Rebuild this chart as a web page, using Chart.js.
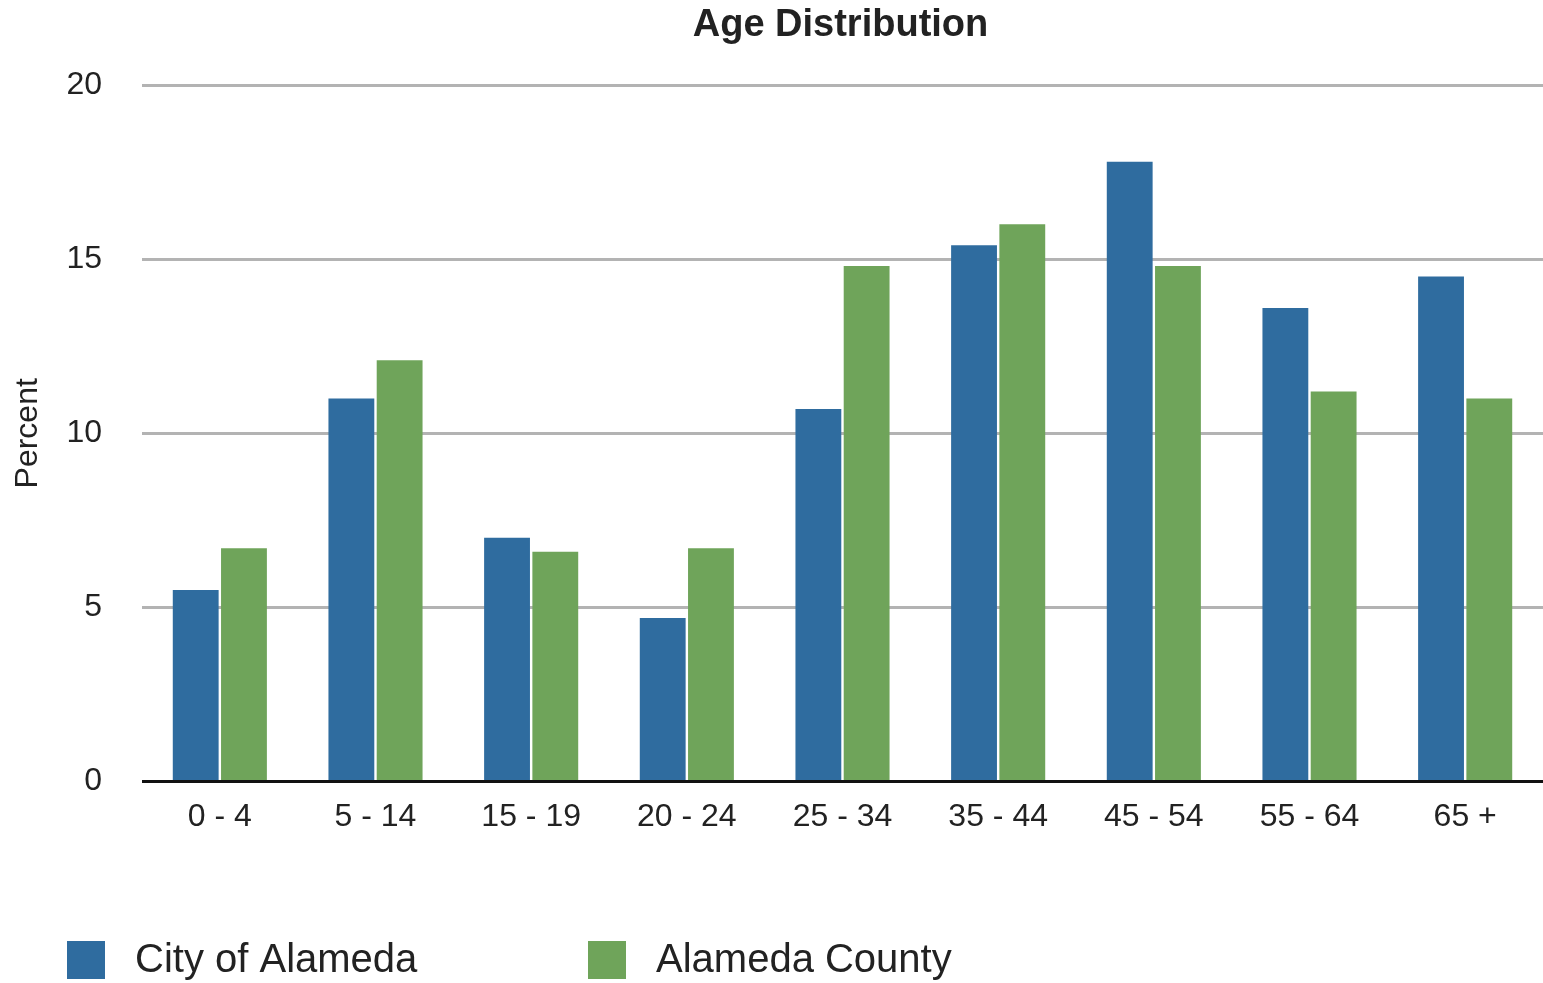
<!DOCTYPE html>
<html>
<head>
<meta charset="utf-8">
<script src="https://cdn.jsdelivr.net/npm/chart.js@4/dist/chart.umd.min.js"></script>
<style>
  html, body { margin: 0; padding: 0; background: #fff; }
  #wrap { width: 1543px; height: 983px; }
</style>
</head>
<body>
<div id="wrap"><canvas id="chart-area"></canvas></div>
<script>
// data
const ageGroups = ['0 - 4', '5 - 14', '15 - 19', '20 - 24', '25 - 34', '35 - 44', '45 - 54', '55 - 64', '65 +'];
const cityOfAlameda = [5.5, 11.0, 7.0, 4.7, 10.7, 15.4, 17.8, 13.6, 14.5];
const alamedaCounty = [6.7, 12.1, 6.6, 6.7, 14.8, 16.0, 14.8, 11.2, 11.0];
const yTicks = [0, 5, 10, 15, 20];

const FONT = "'Liberation Sans', Arial, Helvetica, sans-serif";
const BLUE = '#2f6c9f';
const GREEN = '#6fa45a';

// title over the plot area + legend at bottom left
const decorations = {
    id: 'decorations',
    afterDraw(chart) {
        const ctx = chart.ctx;
        const area = chart.chartArea;
        ctx.save();
        ctx.fillStyle = '#222';
        ctx.font = 'bold 38px ' + FONT;
        ctx.textAlign = 'center';
        ctx.textBaseline = 'middle';
        ctx.fillText('Age Distribution', (area.left + area.right) / 2 - 2, 26);

        ctx.font = '40px ' + FONT;
        ctx.textAlign = 'left';
        let x = 67;
        chart.data.datasets.forEach(function(ds) {
            ctx.fillStyle = ds.backgroundColor;
            ctx.fillRect(x, 941, 38, 38);
            ctx.fillStyle = '#222';
            ctx.fillText(ds.label, x + 68, 961);
            x += 521;
        });
        ctx.restore();
    }
};

new Chart(document.getElementById('chart-area').getContext('2d'), {
    type: 'bar',
    data: {
        labels: ageGroups,
        datasets: [
            { label: 'City of Alameda', data: cityOfAlameda, backgroundColor: BLUE },
            { label: 'Alameda County', data: alamedaCounty, backgroundColor: GREEN }
        ]
    },
    options: {
        responsive: true,
        maintainAspectRatio: false,
        animation: false,
        layout: { padding: { top: 85, right: 0, bottom: 139, left: 9 } },
        datasets: {
            bar: { categoryPercentage: 0.62, barPercentage: 0.95 }
        },
        plugins: {
            legend: { display: false },
            title: { display: false },
            tooltip: { enabled: false }
        },
        scales: {
            x: {
                grid: { display: false },
                border: { display: false },
                ticks: { font: { family: FONT, size: 32 }, color: '#222', padding: 8 }
            },
            y: {
                min: 0,
                max: 20,
                afterBuildTicks: function(scale) {
                    scale.ticks = yTicks.map(v => ({ value: v }));
                },
                afterFit: function(scale) { scale.width = 133; },
                border: { display: false },
                grid: {
                    drawTicks: false,
                    lineWidth: 3,
                    color: ctx => ctx.tick && ctx.tick.value === 0 ? '#111' : '#b3b3b3'
                },
                ticks: { font: { family: FONT, size: 32 }, color: '#222', padding: 40 },
                title: {
                    display: true,
                    text: 'Percent',
                    font: { family: FONT, size: 32 },
                    color: '#222',
                    padding: { top: 0, bottom: 0 }
                }
            }
        }
    },
    plugins: [decorations]
});
</script>
</body>
</html>
